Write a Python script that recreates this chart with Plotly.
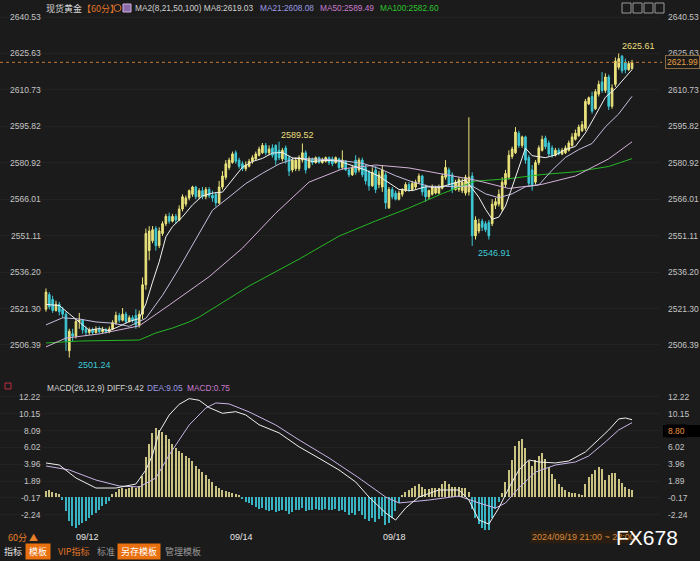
import plotly.graph_objects as go

# ---------------- data ----------------
opens = [2521, 2527, 2525, 2520.5, 2523, 2521, 2519, 2504, 2511, 2510,
         2516, 2516.5, 2513, 2511.5, 2512.5, 2511.5, 2512.8, 2511.8, 2512.6, 2511.7,
         2512.9, 2515.5, 2518.5, 2516.5, 2519, 2516, 2517.5, 2518.5, 2514.5, 2519,
         2531, 2545, 2549, 2554, 2547, 2552, 2556, 2559, 2557, 2559,
         2557.5, 2562, 2564, 2566.5, 2568, 2571, 2567, 2569.5, 2567, 2570,
         2567.5, 2568, 2564.5, 2571, 2575, 2579, 2581, 2585, 2582, 2580.5,
         2578.5, 2579.5, 2581.5, 2582.5, 2584, 2585, 2588, 2585, 2587, 2588,
         2586, 2582.5, 2587, 2583, 2578, 2578.5, 2578.5, 2582, 2585, 2579,
         2582.5, 2581, 2583, 2581, 2581.5, 2583, 2582.5, 2581, 2582.5, 2579,
         2581.5, 2578, 2576, 2582, 2578, 2582, 2579, 2577, 2571.5, 2578,
         2572, 2571, 2576, 2562.5, 2570, 2568.5, 2566, 2568, 2569.5, 2572,
         2570, 2571, 2573, 2575.5, 2571, 2567, 2568, 2568.5, 2568.5, 2570.5,
         2575, 2578, 2576, 2570, 2570, 2569.5, 2568.5, 2569, 2575.5, 2551,
         2553, 2557, 2556, 2556.5, 2556, 2563.5, 2564, 2562, 2572, 2575,
         2583.5, 2585, 2593, 2588, 2591.5, 2583, 2578, 2573, 2581, 2586,
         2591, 2589, 2587, 2584, 2586, 2584.5, 2585, 2586, 2588, 2590.5,
         2592, 2594, 2595, 2605, 2608, 2603, 2609, 2614, 2610.5, 2616,
         2604, 2613, 2620, 2624.5, 2622, 2619, 2619.5]
highs = [2529.5, 2528, 2526.5, 2524.5, 2524, 2522, 2520, 2513, 2513, 2517,
         2519.5, 2517, 2514, 2513.5, 2513.5, 2514, 2514, 2513.8, 2513.4, 2514,
         2516.5, 2520, 2519.5, 2521.5, 2520, 2518.5, 2518.5, 2521, 2520.5, 2534,
         2554, 2555, 2555, 2555, 2554.5, 2557, 2560, 2560.5, 2560, 2560,
         2563.5, 2568, 2567.5, 2570, 2571.5, 2571.5, 2570.5, 2571, 2571, 2571,
         2569.5, 2569, 2573.5, 2577.5, 2582, 2583, 2585.5, 2586, 2583, 2581.5,
         2581.5, 2582.5, 2584, 2585.5, 2587.5, 2589, 2589, 2588, 2588.5, 2588.5,
         2589.52, 2587, 2588, 2584, 2583, 2583, 2584, 2588.8, 2586, 2583.5,
         2583, 2583.5, 2583.5, 2583, 2583.5, 2583.5, 2583.5, 2583.5, 2583, 2586,
         2582, 2578.5, 2580, 2584, 2583, 2583, 2580, 2578, 2579, 2579.5,
         2577.5, 2580, 2577, 2571, 2571, 2569.5, 2569.5, 2570.5, 2573, 2573,
         2573.5, 2574, 2576.5, 2576, 2572, 2570, 2572, 2571.5, 2572, 2576.5,
         2582, 2579, 2577, 2574, 2575, 2574.5, 2576, 2599.5, 2577, 2559,
         2558, 2558, 2557, 2557.5, 2566, 2566.5, 2570, 2575, 2578, 2586,
         2587.5, 2595.5, 2594, 2592, 2592, 2584, 2580, 2582, 2588, 2592,
         2592, 2590, 2588, 2587, 2587, 2587, 2588, 2590, 2593, 2594.5,
         2596.5, 2598, 2607, 2608, 2610, 2611, 2614.5, 2618, 2617.5, 2617,
         2613, 2624, 2625.61, 2625, 2623.5, 2622.5, 2623]
lows = [2520, 2521, 2519.5, 2520, 2518.5, 2517.5, 2504, 2501.24, 2508, 2509,
        2513, 2511, 2510, 2510.5, 2510.5, 2511, 2511, 2511, 2511, 2511.2,
        2512.5, 2514.5, 2515.5, 2516, 2515, 2515.5, 2515.5, 2513, 2513.5, 2517,
        2529, 2541, 2548, 2545, 2546, 2551, 2555, 2556, 2556.5, 2556,
        2557, 2561, 2563, 2565.5, 2567, 2566, 2566, 2566, 2566, 2566.5,
        2565, 2563, 2564, 2570, 2574, 2578, 2580.5, 2580.5, 2578.5, 2577.5,
        2577.5, 2579, 2580.5, 2582, 2583.5, 2584.5, 2584, 2584, 2583, 2580,
        2582, 2581.5, 2580.5, 2575.5, 2577, 2577.5, 2577.5, 2581, 2576.5, 2578.5,
        2580, 2580.5, 2580.5, 2580.5, 2581, 2580, 2579.5, 2580.5, 2578, 2578,
        2577.5, 2575, 2575.5, 2576, 2577, 2575, 2572, 2569.5, 2571, 2568.5,
        2570.5, 2569, 2562, 2562, 2566, 2565.5, 2565.5, 2567, 2569, 2569,
        2569.5, 2570, 2572.5, 2567.5, 2565, 2566, 2567.5, 2568, 2568, 2570,
        2574, 2571, 2568.5, 2569.5, 2569, 2568.5, 2567.5, 2567.5, 2546.91, 2549.5,
        2552, 2553, 2552.5, 2549.5, 2555, 2562, 2563, 2561, 2571, 2574,
        2582.5, 2584.5, 2587, 2587, 2580.5, 2571.5, 2569.5, 2572, 2580, 2585.5,
        2586.5, 2583.5, 2583, 2583.5, 2584, 2584, 2584.5, 2585.5, 2587.5, 2590,
        2591.5, 2593.5, 2594, 2604.5, 2601, 2602.5, 2608, 2609.5, 2609.5, 2602.5,
        2603, 2612, 2619, 2617.5, 2617.5, 2618.5, 2619]
closes = [2528, 2522, 2520.5, 2523, 2520, 2519, 2508, 2512, 2510, 2516,
          2516.5, 2512.5, 2511.5, 2512.5, 2511.5, 2512.8, 2511.8, 2512.6, 2511.7, 2512.9,
          2515.5, 2518.5, 2516.5, 2519, 2516, 2517.5, 2516.5, 2514.5, 2519, 2531,
          2552, 2553, 2553.5, 2547, 2553, 2556, 2559, 2557, 2559, 2557.5,
          2562, 2567, 2566.5, 2569.5, 2571, 2567, 2569.5, 2567, 2570, 2567.5,
          2566.5, 2564.5, 2571, 2575.5, 2580.5, 2582, 2584.5, 2581.5, 2579.5, 2578.5,
          2580, 2581.5, 2583, 2584.5, 2586.5, 2588, 2585, 2586.5, 2584, 2582,
          2583, 2586, 2582, 2577.5, 2582, 2582, 2583, 2585, 2578, 2582.5,
          2581, 2583, 2581, 2582, 2583, 2581, 2580.5, 2583, 2579, 2582,
          2578, 2576, 2579, 2577, 2582, 2576, 2573.5, 2571.5, 2577, 2570,
          2576, 2578, 2564.5, 2570, 2567, 2566, 2568.5, 2570, 2572, 2570,
          2572.5, 2573, 2575.5, 2569, 2567, 2569.5, 2571, 2570.5, 2571, 2575.5,
          2579, 2572, 2570, 2573, 2574, 2573, 2575, 2575, 2551, 2557.5,
          2556, 2554.5, 2553.5, 2551, 2564, 2565, 2568, 2573, 2576.5, 2584,
          2586.5, 2593.5, 2588, 2591.5, 2582, 2572.5, 2572, 2581, 2587, 2590.5,
          2587.5, 2584.5, 2584, 2586, 2584.5, 2586, 2587, 2589, 2591.5, 2593,
          2595.5, 2596.5, 2606, 2607.5, 2602, 2610, 2613, 2610.5, 2616, 2604,
          2611.5, 2622.5, 2623.5, 2618.5, 2619, 2621.5, 2621.99]

ma8_idx = [0, 4, 7, 10, 13, 16, 19, 22, 25, 28, 30, 32, 34, 36, 38, 41, 44, 47, 50, 53,
           56, 59, 62, 65, 68, 71, 74, 77, 80, 84, 88, 92, 96, 100, 103, 106, 110, 114, 118, 122,
           126, 128, 130, 132, 134, 136, 138, 140, 142, 144, 146, 148, 150, 153, 156, 159, 162, 165, 168, 171,
           174, 176]
ma8 = [2523, 2522.5, 2519.1, 2515.6, 2512.4, 2513.1, 2512.2, 2514.0, 2516.0, 2517.2,
       2523.2, 2532.1, 2540.4, 2550.6, 2554.8, 2558.8, 2563.7, 2567.4, 2568.5, 2568.9,
       2574.0, 2579.1, 2581.4, 2582.7, 2584.9, 2585.1, 2582.9, 2582.6, 2581.4, 2581.9,
       2581.6, 2579.8, 2577.9, 2575.4, 2572.6, 2570.0, 2569.5, 2571.1, 2570.8, 2572.3,
       2573.9, 2570.4, 2566.8, 2561.9, 2557.8, 2558.7, 2563.2, 2571.0, 2579.3, 2586.9,
       2583.8, 2583.4, 2583.0, 2584.1, 2586.3, 2587.6, 2593.1, 2600.3, 2607.7, 2611.2,
       2615.7, 2619.03]
ma21_idx = [0, 5, 10, 15, 20, 25, 30, 35, 40, 45, 50, 55, 60, 65, 70, 75, 80, 85, 90, 95,
            100, 105, 110, 115, 120, 125, 128, 132, 136, 140, 144, 148, 152, 156, 160, 164, 168, 172, 176]
ma21 = [2514.6, 2517.5, 2517.0, 2515.8, 2515.3, 2514.0, 2517.3, 2526.7, 2537.8, 2549.9,
        2561.5, 2566.9, 2572.4, 2576.6, 2580.4, 2582.8, 2582.6, 2582.2, 2581.6, 2580.7,
        2578.6, 2575.6, 2573.1, 2571.3, 2571.2, 2571.5, 2571.4, 2568.2, 2566.6, 2568.2,
        2571.1, 2571.8, 2577.9, 2583.1, 2586.3, 2588.8, 2595.6, 2600.9, 2608.08]
ma50_idx = [0, 6, 16, 28, 37, 43, 49, 59, 69, 79, 89, 99, 109, 119, 129, 139, 149, 159, 169, 176]
ma50 = [2505.6, 2509.2, 2510.9, 2514.2, 2522.7, 2528.5, 2534.3, 2546.0, 2560.3, 2573.0,
        2578.4, 2580.0, 2578.8, 2576.3, 2573.8, 2570.4, 2572.1, 2575.5, 2582.5, 2589.49]
ma100_idx = [0, 10, 28, 33, 38, 43, 46, 61, 76, 88, 99, 109, 119, 129, 139, 149, 159, 169, 176]
ma100 = [2507.2, 2508.0, 2508.4, 2511.3, 2513.3, 2515.8, 2517.8, 2530.5, 2541.5, 2550.9,
         2557.1, 2562.4, 2568.3, 2573.4, 2574.4, 2576.1, 2577.2, 2579.4, 2582.6]

macd_hist = [0.7, 0.8, 0.6, 0.5, 0.3,
             -0.4, -1.8, -3.0, -3.6, -3.9, -3.5, -3.2, -3.0, -2.6, -2.3, -2.0, -1.6, -1.2, -0.9, -0.5,
             0.3, 0.6, 0.9, 1.0, 0.9, 1.1, 1.2, 1.0, 1.3,
             2.5, 4.8, 6.5, 7.8, 8.4, 8.2, 7.9, 7.6, 7.0, 6.5, 6.0, 5.6, 5.3, 5.0, 4.7,
             4.3, 3.8, 3.4, 3.0, 2.6, 2.2, 1.8, 1.3, 1.0, 0.8, 0.7, 0.6, 0.5, 0.3, 0.1,
             -0.3, -0.6, -0.8, -1.0, -1.3, -1.5, -1.4, -1.6, -1.8, -1.7,
             -1.9, -1.8, -1.6, -1.8, -2.1, -1.9, -1.7, -1.6, -1.4, -1.8,
             -1.7, -1.7, -1.5, -1.6, -1.6, -1.5, -1.6, -1.7, -1.5, -1.8,
             -1.6, -1.9, -2.2, -2.0, -2.2, -1.8, -2.3, -2.7, -3.0, -2.6,
             -3.1, -2.7, -2.4, -3.5, -3.2, -2.6, -1.8, -0.8,
             0.2, 0.6, 0.8, 1.1, 1.3, 1.6, 1.2, 0.9, 0.9, 1.0, 1.0, 1.1, 1.5, 1.9, 1.5, 1.2,
             1.2, 1.2, 1.1, 1.1, 0.6,
             -1.5, -2.6, -3.4, -3.9, -4.1, -4.2, -2.6, -1.5, -0.6,
             0.5, 1.8, 3.2, 4.5, 6.2, 6.8, 7.0, 6.0, 4.4, 3.8,
             4.5, 5.0, 5.4, 4.6, 3.6, 2.8, 2.2, 1.6, 1.2, 0.8,
             0.6, 0.5, 0.4, 0.3, 0.2,
             1.5, 2.4, 2.8, 3.3, 3.6, 3.4, 2.0, 2.6, 2.9, 2.9, 2.1, 1.7, 1.2, 0.9, 0.75]
diff_idx = [0, 4, 9, 15, 21, 27, 30, 32, 34, 37, 40, 43, 46, 49, 53, 57, 60, 64, 70, 76,
            82, 88, 93, 97, 102, 105, 108, 112, 118, 124, 127, 130, 133, 136, 139, 142, 145, 148, 153, 157,
            162, 166, 169, 172, 174, 176]
diff_vals = [4.12, 3.87, 2.28, 1.05, 1.05, 1.54, 3.26, 5.1, 7.92, 10.0,
             11.3, 12.0, 11.8, 10.9, 10.2, 10.4, 10.0, 8.8, 7.8, 6.1,
             4.7, 3.26, 1.79, -0.05, -2.0, -2.87, -1.4, -0.05, 0.81, 0.81,
             -0.42, -2.87, -3.36, -1.4, 1.05, 3.26, 4.49, 4.24, 4.12, 4.36,
             5.47, 6.94, 8.16, 9.51, 9.63, 9.42]
dea_idx = [0, 7, 15, 22, 28, 33, 37, 43, 48, 51, 55, 61, 69, 76, 85, 94, 102, 106, 115, 124,
           130, 135, 138, 142, 147, 153, 159, 163, 168, 172, 176]
dea_vals = [3.75, 3.26, 2.03, 1.3, 1.18, 2.28, 5.1, 8.77, 10.85, 11.47,
            11.35, 10.37, 8.77, 6.94, 4.73, 2.28, -0.05, -0.78, -0.42, 0.07,
            -0.78, -1.4, -0.78, 1.05, 3.01, 3.87, 4.24, 4.98, 6.69, 8.16,
            9.05]

price_ticks = [2640.53, 2625.63, 2610.73, 2595.82, 2580.92, 2566.01, 2551.11, 2536.20, 2521.30, 2506.39]
macd_ticks = [12.22, 10.15, 8.09, 6.02, 3.96, 1.89, -0.17, -2.24]
date_labels = ["09/12", "09/14", "09/18"]
date_pos = [12.6, 58.6, 104.8]
last_price = 2621.99
macd_last_label = 8.80

# ---------------- styling ----------------
W, H = 700, 561
BG = "#1b1b1b"
UP = "#ece47c"
DN = "#3ec9d6"
HIST_UP = "#c9c283"
HIST_DN = "#38b4c4"
AX_TXT = "#c4c4c4"
NUM_FONT = "Liberation Sans, Arial, sans-serif"
HDR_FONT = "Liberation Sans, Arial, sans-serif"
CJK = "Noto Sans CJK SC, sans-serif"
ORANGE = "#e8802a"


def py(px):
    return 1 - px / H


def pxx(px):
    return px / W


idx = list(range(len(closes)))
fig = go.Figure()

fig.add_trace(go.Candlestick(
    x=idx, open=opens, high=highs, low=lows, close=closes,
    increasing=dict(line=dict(color=UP, width=1), fillcolor=UP),
    decreasing=dict(line=dict(color=DN, width=1), fillcolor=DN),
    whiskerwidth=0, showlegend=False, hoverinfo="skip", xaxis="x", yaxis="y"))

for ix, vals, col in [(ma100_idx, ma100, "#25b825"), (ma50_idx, ma50, "#d4b0d8"),
                      (ma21_idx, ma21, "#c4bfe0"), (ma8_idx, ma8, "#f2f2f2")]:
    fig.add_trace(go.Scatter(x=ix, y=vals, mode="lines", line=dict(color=col, width=1),
                             showlegend=False, hoverinfo="skip", xaxis="x", yaxis="y"))

fig.add_trace(go.Bar(x=idx, y=macd_hist, width=0.42,
                     marker=dict(color=[HIST_UP if v >= 0 else HIST_DN for v in macd_hist],
                                 line=dict(width=0)),
                     showlegend=False, hoverinfo="skip", xaxis="x2", yaxis="y2"))
fig.add_trace(go.Scatter(x=dea_idx, y=dea_vals, mode="lines", line=dict(color="#c8b4e6", width=1),
                         showlegend=False, hoverinfo="skip", xaxis="x2", yaxis="y2"))
fig.add_trace(go.Scatter(x=diff_idx, y=diff_vals, mode="lines", line=dict(color="#f0f0f0", width=1),
                         showlegend=False, hoverinfo="skip", xaxis="x2", yaxis="y2"))

xr = [-13.81, 184.4]
fig.update_layout(
    width=W, height=H, margin=dict(l=0, r=0, t=0, b=0),
    paper_bgcolor=BG, plot_bgcolor=BG, showlegend=False, bargap=0,
    xaxis=dict(domain=[0, 660 / W], range=xr, showgrid=False, zeroline=False,
               showticklabels=False, rangeslider=dict(visible=False), anchor="y", fixedrange=True),
    xaxis2=dict(domain=[0, 660 / W], range=xr, showgrid=False, zeroline=False,
                showticklabels=False, anchor="y2", matches="x"),
    yaxis=dict(domain=[py(375), py(10)], range=[2494.1, 2643.4], tickvals=price_ticks,
               showticklabels=False, gridcolor="#222222", gridwidth=1, zeroline=False, anchor="x"),
    yaxis2=dict(domain=[py(530), py(388)], range=[-4.09, 13.3], tickvals=macd_ticks,
                showticklabels=False, gridcolor="#222222", gridwidth=1, zeroline=False, anchor="x2"),
)

ann = []


def txt(x, y, s, color=AX_TXT, size=8.5, xanchor="left", font=NUM_FONT, yref="paper", xref="paper", **kw):
    ann.append(dict(x=x, y=y, xref=xref, yref=yref, text=s, showarrow=False,
                    xanchor=xanchor, yanchor="middle",
                    font=dict(color=color, size=size, family=font), **kw))


# price axis labels (both sides)
for v in price_ticks:
    txt(pxx(43), v, f"{v:.2f}", xanchor="right", yref="y")
    txt(pxx(666), v, f"{v:.2f}", yref="y")
# MACD axis labels
for v in macd_ticks:
    txt(pxx(43), v, f"{v:.2f}", xanchor="right", yref="y2")
    if v != 8.09:
        txt(pxx(666), v, f"{v:.2f}", yref="y2")

# last price box
fig.add_shape(type="rect", xref="paper", yref="paper", x0=pxx(663), x1=1, y0=py(437), y1=py(425),
              fillcolor="#000000", line=dict(width=0), layer="below")
txt(pxx(665), last_price, f"{last_price:.2f}", color="#e8a040", yref="y",
    bordercolor="#8a6a40", borderwidth=1, borderpad=1, bgcolor="#1b1b1b")
txt(pxx(666), 8.09, f"{macd_last_label:.2f}", color="#e8903a", yref="y2", bgcolor="#000000")

# dashed last-price line
fig.add_shape(type="line", xref="paper", yref="y", x0=0, x1=662 / W, y0=last_price, y1=last_price,
              line=dict(color="#c47a34", width=1, dash="dot"))

# extreme labels
hi = max(highs)
lo = min(lows)
txt(highs.index(hi) + 0.3, hi + 3.2, f"{hi:.2f}", color="#ecdf7e", size=9, xref="x", yref="y")
txt(lows.index(lo) + 2.0, lo - 3.0, f"{lo:.2f}", color="#3ec9d6", size=9, xref="x", yref="y")
local_hi = 2589.52
local_lo = 2546.91
txt(highs.index(local_hi) + 0.0, local_hi + 2.6, f"{local_hi:.2f}", color="#ecdf7e", size=9, xref="x", yref="y")
txt(lows.index(local_lo) + 1.0, local_lo - 3.0, f"{local_lo:.2f}", color="#3ec9d6", size=9, xref="x", yref="y")

# header
txt(pxx(44), py(8), "现货黄金", color="#d8d8d8", size=9, font=CJK)
txt(pxx(80), py(8), "【60分】", color="#e07428", size=9, font=CJK)
txt(pxx(133), py(8), "MA2(8,21,50,100) MA8:2619.03", color="#d0d0d0", size=8.3, font=HDR_FONT)
txt(pxx(258), py(8), "MA21:2608.08", color="#9a9ae0", size=8.3, font=HDR_FONT)
txt(pxx(318), py(8), "MA50:2589.49", color="#c87ccc", size=8.3, font=HDR_FONT)
txt(pxx(378), py(8), "MA100:2582.60", color="#2ec42e", size=8.3, font=HDR_FONT)
fig.add_shape(type="circle", xref="paper", yref="paper", x0=pxx(114), x1=pxx(121), y0=py(11.5), y1=py(4.5),
              line=dict(color="#e07428", width=1))
fig.add_shape(type="rect", xref="paper", yref="paper", x0=pxx(123), x1=pxx(131), y0=py(12), y1=py(4),
              fillcolor="#8a6aa8", line=dict(color="#d0b0e0", width=1))
for k in range(4):
    x0 = 622 + k * 11
    fig.add_shape(type="rect", xref="paper", yref="paper", x0=pxx(x0), x1=pxx(x0 + 9), y0=py(13), y1=py(3),
                  line=dict(color="#9a9a9a", width=1))

# MACD header
txt(pxx(45), py(388), "MACD(26,12,9) DIFF:9.42", color="#d0d0d0", size=8.3, font=HDR_FONT)
txt(pxx(145), py(388), "DEA:9.05", color="#9a9ae0", size=8.3, font=HDR_FONT)
txt(pxx(185), py(388), "MACD:0.75", color="#c87ccc", size=8.3, font=HDR_FONT)
fig.add_shape(type="rect", xref="paper", yref="paper", x0=pxx(5), x1=pxx(11), y0=py(389), y1=py(383),
              line=dict(color="#c03040", width=1))

# x axis date labels
for lab, pos in zip(date_labels, date_pos):
    txt(pos, py(537), lab, color="#e6e6e6", size=9, xanchor="center", xref="x2")
txt(pxx(6), py(537), "60分 ▲", color=ORANGE, size=9, font=CJK)
txt(pxx(530), py(537), "2024/09/19 21:00 ~ 22:00", color="#d88a3a", size=9, font=HDR_FONT,
    bgcolor="#2a1e12")
txt(pxx(614), py(537), "FX678", color="#ffffff", size=21, font="Liberation Sans, Arial")

# bottom toolbar
txt(pxx(2), py(551), "指标", color="#e8e8e8", size=9, font=CJK)
txt(pxx(25), py(551), " 模板 ", color="#ffffff", size=9, font=CJK, bgcolor="#e8700e")
txt(pxx(56), py(551), "VIP指标", color="#e07428", size=9, font=CJK)
txt(pxx(95), py(551), "标准", color="#9a9a9a", size=9, font=CJK)
txt(pxx(117), py(551), " 另存模板 ", color="#ffffff", size=9, font=CJK, bgcolor="#e8700e")
txt(pxx(163), py(551), "管理模板", color="#9a9a9a", size=9, font=CJK)

fig.update_layout(annotations=ann)
fig.write_html("out.html", config={"displayModeBar": False},
               post_script="document.body.style.margin='0px';")
